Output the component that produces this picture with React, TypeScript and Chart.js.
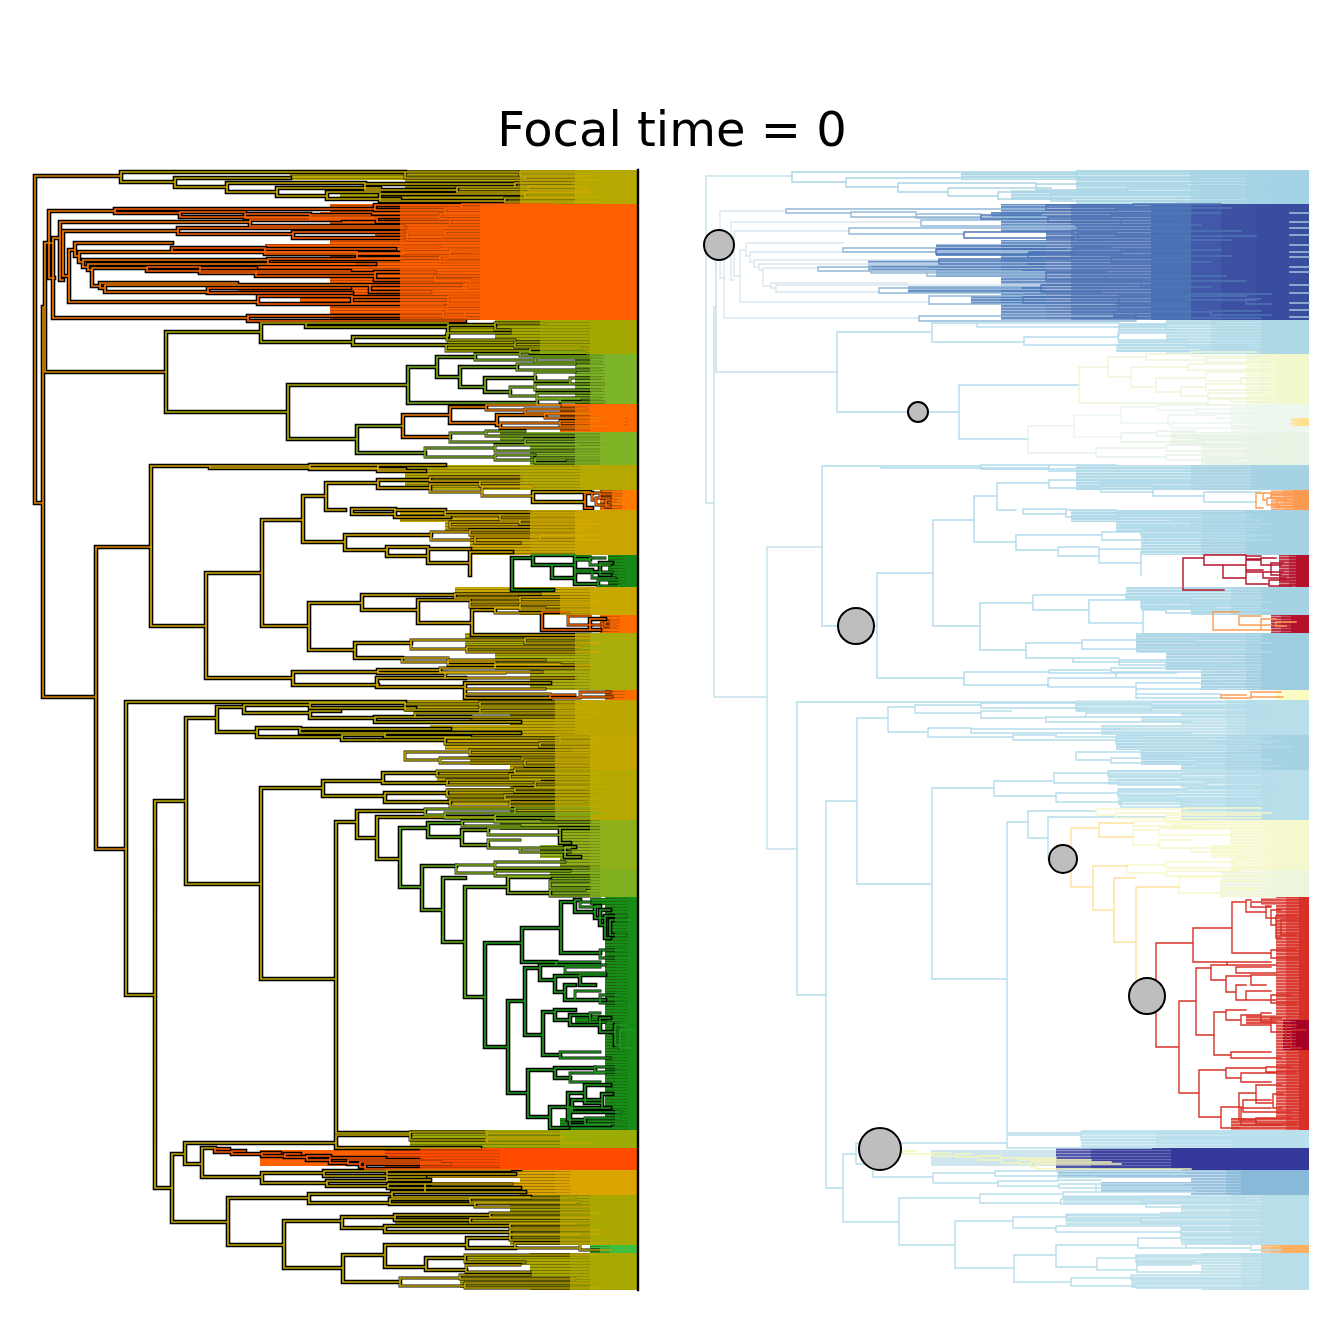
import React, { useEffect, useRef } from "react";
import { Chart, registerables } from "chart.js";

Chart.register(...registerables);

const titleText = "Focal time = 0";
const tipDepth = 638;

// each node: [depth, upper child rank, lower child rank, upper child depth, lower child depth]
const basalNodes = [
  [35, 176, 503, 121, 43], [43, 307, 697, 45, 96], [45, 243, 372, 53, 166], [96, 547, 849, 151, 126],
];
const topNodes = [
  [121, 172, 182, 405, 175], [175, 178, 187, 290, 227], [227, 183, 192, 365, 277], [277, 188, 196, 380, 327],
  [327, 192, 199, 380, 400], [405, 172, 178, 520, 525], [520, 172, 176, 575, 590], [525, 176, 180, 575, 600],
  [365, 184, 190, 515, 457], [515, 183, 187, 570, 585], [457, 187, 192, 528, 590], [528, 186, 190, 580, 590],
  [380, 194, 201, 525, 505], [525, 193, 197, 590, 600], [505, 198, 202, 575, 600],
];
const orangeStemNodes = [
  [49, 211, 278, 115, 54], [53, 238, 318, 60, 248], [60, 222, 280, 250, 63], [63, 231, 276, 178, 69],
  [69, 250, 302, 75, 258], [75, 243, 256, 172, 79], [79, 252, 262, 357, 83], [83, 260, 267, 268, 88],
  [88, 264, 270, 355, 92], [92, 268, 286, 147, 100], [100, 283, 288, 237, 105], [105, 285, 292, 370, 208],
];
const orangeMidNodes = [
  [115, 209, 213, 375, 180], [180, 212, 217, 245, 375], [245, 214, 218, 310, 375], [250, 220, 226, 340, 403],
  [178, 228, 234, 405, 293], [172, 248, 252, 265, 357], [147, 267, 271, 200, 350], [200, 268, 273, 256, 375],
  [208, 288, 293, 350, 352], [256, 271, 276, 306, 375], [248, 316, 321, 443, 465], [258, 296, 304, 352, 443],
];
const orangeNodes = [
  [310, 215, 219, 370, 375], [293, 232, 238, 403, 403], [265, 249, 254, 395, 403], [268, 259, 264, 400, 375],
  [375, 205, 210, 462, 445], [462, 204, 208, 550, 515], [445, 208, 213, 560, 550],
  [377, 217, 222, 440, 450], [440, 214, 219, 520, 500], [450, 219, 225, 510, 530],
  [407, 233, 240, 445, 485], [445, 231, 236, 570, 580], [485, 236, 240, 585, 560],
  [403, 247, 252, 440, 470], [357, 253, 258, 450, 440], [450, 250, 258, 550, 510], [440, 256, 262, 560, 540],
  [375, 272, 280, 435, 470], [435, 276, 281, 555, 560], [470, 281, 287, 575, 540],
  [370, 285, 292, 460, 430], [352, 297, 303, 447, 447], [448, 296, 304, 575, 515],
  [515, 294, 300, 600, 585], [575, 299, 304, 590, 600], [447, 306, 311, 515, 520],
  [443, 312, 317, 500, 465], [465, 312, 318, 540, 590], [540, 311, 315, 590, 600],
];
const oliveNodes = [
  [166, 332, 412, 261, 288], [261, 323, 342, 306, 353], [306, 323, 327, 448, 448],
  [353, 337, 345, 447, 446], [448, 325, 336, 495, 447], [495, 323, 330, 545, 510], [447, 333, 340, 510, 515],
  [446, 345, 351, 515, 530], [515, 342, 347, 590, 580], [530, 349, 353, 590, 585],
  [288, 385, 439, 408, 357],
];
const limeNodes = [
  [408, 367, 403, 437, 537], [437, 357, 377, 475, 460], [475, 354, 360, 520, 535], [520, 352, 356, 585, 600],
  [535, 358, 362, 590, 600], [460, 367, 387, 517, 485], [517, 364, 370, 575, 600],
  [485, 378, 392, 535, 510], [535, 372, 381, 575, 570], [570, 378, 384, 600, 610],
  [510, 387, 396, 535, 537], [535, 384, 390, 575, 600], [537, 393, 398, 590, 590],
  [537, 399, 405, 580, 560], [560, 398, 402, 600, 610],
];
const orange2Nodes = [
  [403, 415, 437, 450, 450], [450, 407, 423, 486, 497], [486, 405, 410, 560, 525], [525, 409, 413, 585, 590],
  [497, 415, 425, 545, 500], [545, 414, 418, 590, 605], [500, 423, 428, 560, 590], [560, 421, 426, 600, 610],
];
const lime2Nodes = [
  [357, 426, 453, 403, 425], [450, 433, 442, 486, 525], [486, 431, 436, 525, 600], [525, 439, 444, 600, 610],
  [425, 448, 457, 495, 495], [495, 445, 451, 580, 600], [495, 455, 460, 535, 565], [535, 458, 463, 600, 600],
];
const amberNodes = [
  [151, 466, 626, 210, 206], [210, 466, 468, 310, 378], [310, 465, 469, 400, 405], [378, 465, 471, 445, 425],
  [206, 573, 678, 262, 293], [262, 520, 626, 303, 309], [303, 496, 542, 326, 345], [326, 483, 510, 378, 345],
  [378, 480, 488, 430, 430], [430, 484, 492, 480, 482], [482, 487, 496, 533, 533], [533, 492, 502, 590, 585],
  [430, 477, 481, 520, 510], [480, 481, 486, 520, 530], [352, 509, 514, 395, 395], [395, 510, 517, 445, 450],
  [445, 512, 515, 530, 500], [500, 515, 520, 580, 590], [450, 522, 527, 520, 590], [520, 520, 524, 585, 600],
  [345, 535, 550, 431, 387], [431, 532, 540, 470, 475], [470, 530, 535, 585, 600], [475, 537, 543, 540, 520],
  [540, 536, 540, 585, 600], [387, 547, 556, 428, 428], [428, 549, 563, 470, 470], [470, 552, 575, 512, 470],
  [309, 603, 650, 362, 355], [362, 595, 610, 455, 418], [455, 594, 598, 540, 520], [520, 597, 602, 590, 600],
  [418, 600, 623, 470, 472], [470, 602, 607, 520, 520], [520, 604, 610, 590, 600],
  [472, 610, 635, 495, 590], [495, 608, 613, 545, 542],
  [355, 643, 658, 411, 402], [411, 640, 649, 525, 467], [525, 638, 643, 590, 600], [467, 647, 652, 580, 600],
  [402, 658, 662, 448, 495], [448, 660, 665, 545, 590], [495, 664, 668, 560, 590],
  [293, 672, 685, 378, 378], [378, 670, 673, 440, 445], [440, 668, 672, 540, 542], [445, 673, 678, 505, 575],
  [377, 678, 687, 465, 465], [465, 683, 698, 550, 550], [465, 689, 694, 545, 550],
];
const greenNodes = [
  [512, 558, 590, 533, 553], [533, 555, 565, 575, 552], [575, 556, 560, 590, 590], [552, 565, 578, 575, 575],
  [575, 559, 572, 590, 600], [590, 558, 565, 605, 610], [600, 563, 575, 612, 610], [575, 570, 584, 592, 598],
  [592, 572, 578, 612, 615], [598, 580, 586, 618, 620],
];
const orange3Nodes = [
  [585, 493, 508, 592, 592], [592, 493, 500, 600, 596], [600, 494, 498, 625, 610], [596, 498, 505, 606, 610],
  [606, 500, 507, 615, 625], [542, 612, 630, 568, 590], [568, 616, 625, 590, 600], [590, 619, 630, 605, 600],
  [605, 622, 626, 625, 615], [550, 695, 698, 575, 580], [580, 692, 697, 610, 612],
];
const lowerNodes = [
  [126, 702, 995, 405, 155], [155, 801, 1188, 186, 172], [186, 718, 884, 217, 261],
  [217, 707, 732, 244, 257], [244, 705, 713, 310, 310], [310, 703, 708, 405, 415], [310, 711, 718, 340, 375],
  [257, 728, 737, 300, 342], [300, 729, 733, 450, 400], [342, 735, 740, 385, 445], [385, 733, 737, 520, 470],
  [405, 704, 710, 480, 480], [480, 702, 706, 590, 600], [480, 708, 713, 585, 600], [415, 713, 717, 530, 590],
  [375, 717, 722, 470, 520], [445, 738, 744, 560, 540], [560, 737, 741, 600, 610], [540, 743, 747, 600, 620],
  [261, 788, 979, 323, 336], [323, 781, 796, 383, 385], [383, 773, 783, 437, 447], [437, 771, 776, 515, 510],
  [515, 769, 773, 590, 600], [510, 774, 779, 590, 600], [447, 780, 785, 540, 535], [535, 782, 787, 600, 610],
  [385, 793, 802, 447, 450], [447, 790, 796, 515, 505], [515, 788, 792, 585, 590], [505, 795, 799, 590, 600],
  [450, 800, 807, 510, 510], [510, 802, 806, 585, 600], [405, 752, 760, 470, 440], [470, 750, 755, 570, 590],
  [440, 758, 763, 520, 525], [525, 760, 766, 600, 610],
  [336, 822, 1133, 357, 410], [357, 811, 838, 425, 377], [377, 817, 859, 495, 400],
];
const limeOliveNodes = [
  [425, 809, 815, 515, 445], [515, 808, 813, 590, 600],
  [445, 813, 818, 530, 590], [495, 815, 822, 590, 590],
  [462, 821, 826, 540, 520], [462, 830, 845, 488, 488], [488, 828, 835, 560, 560],
  [560, 828, 843, 600, 570], [488, 840, 848, 520, 565], [520, 848, 852, 570, 570], [565, 847, 857, 575, 580],
  [456, 865, 873, 495, 495], [495, 862, 868, 565, 600], [495, 871, 876, 570, 600],
  [508, 877, 893, 550, 550], [550, 881, 888, 590, 590], [550, 890, 896, 585, 600],
];
const yellowStemNodes = [
  [400, 828, 887, 428, 422], [428, 823, 837, 462, 462], [422, 866, 910, 456, 443],
  [443, 878, 942, 465, 465], [465, 887, 997, 508, 485],
];
const forestNodes = [
  [485, 943, 1047, 522, 508], [522, 928, 962, 561, 556], [561, 902, 953, 575, 600], [575, 900, 912, 580, 595],
  [580, 902, 907, 590, 600], [595, 906, 918, 600, 605], [600, 910, 925, 610, 605], [605, 916, 938, 625, 610],
  [610, 920, 935, 630, 625], [600, 950, 958, 625, 630], [556, 962, 965, 600, 605], [508, 1001, 1093, 525, 528],
  [525, 968, 1035, 540, 543], [540, 965, 980, 565, 555], [565, 967, 973, 600, 605], [555, 976, 992, 580, 565],
  [580, 975, 985, 605, 595], [565, 985, 1000, 575, 605], [575, 991, 1000, 600, 600], [600, 995, 1003, 620, 625],
  [543, 1012, 1055, 555, 560], [555, 1010, 1020, 575, 570], [570, 1015, 1025, 590, 600], [590, 1013, 1022, 600, 605],
  [600, 1018, 1032, 610, 615], [615, 1025, 1045, 625, 620], [620, 1030, 1048, 635, 630], [560, 1052, 1058, 600, 610],
  [528, 1070, 1117, 555, 550], [555, 1068, 1078, 595, 570], [570, 1073, 1082, 605, 600], [595, 1067, 1072, 620, 625],
  [550, 1107, 1128, 570, 568], [568, 1093, 1120, 585, 585], [585, 1085, 1103, 610, 602], [602, 1094, 1108, 612, 610],
  [585, 1118, 1124, 620, 625], [572, 1100, 1112, 600, 620], [570, 1108, 1125, 600, 610],
];
const bottomNodes = [
  [172, 1154, 1222, 185, 228], [185, 1143, 1164, 336, 202], [336, 1135, 1148, 410, 480], [410, 1132, 1140, 487, 487],
  [487, 1133, 1137, 560, 565], [487, 1139, 1143, 560, 590], [202, 1148, 1177, 215, 262],
  [262, 1173, 1183, 324, 327], [324, 1171, 1176, 387, 387], [327, 1181, 1186, 387, 388], [387, 1170, 1174, 510, 515],
  [387, 1177, 1180, 425, 430], [388, 1184, 1188, 430, 520], [425, 1184, 1192, 512, 520],
  [228, 1198, 1245, 309, 284], [309, 1194, 1203, 392, 390], [392, 1192, 1197, 525, 530], [390, 1199, 1204, 470, 475],
  [470, 1198, 1202, 575, 580], [475, 1203, 1207, 575, 590], [284, 1221, 1268, 342, 343],
  [342, 1217, 1228, 395, 385], [395, 1215, 1220, 490, 470], [490, 1213, 1217, 600, 590], [470, 1218, 1223, 590, 590],
  [385, 1226, 1232, 510, 510], [510, 1224, 1228, 575, 590], [510, 1230, 1234, 600, 600],
  [343, 1255, 1282, 385, 400], [385, 1245, 1267, 467, 426], [467, 1238, 1248, 510, 515], [510, 1235, 1240, 580, 590],
  [515, 1243, 1248, 580, 580], [426, 1258, 1270, 465, 466], [465, 1255, 1262, 595, 525], [466, 1265, 1272, 520, 530],
  [400, 1278, 1286, 460, 465], [460, 1275, 1279, 530, 575], [465, 1283, 1288, 590, 600], [580, 1243, 1250, 605, 610],
];
const bottomOrangeNodes = [
  [215, 1149, 1152, 229, 232], [232, 1151, 1154, 245, 262], [262, 1153, 1156, 280, 285],
  [285, 1154, 1157, 300, 307], [307, 1156, 1160, 330, 330], [330, 1158, 1163, 385, 348], [348, 1160, 1164, 420, 360],
  [360, 1162, 1167, 440, 365], [365, 1164, 1169, 450, 520],
];

const cladeNodes = [basalNodes, topNodes, orangeStemNodes, orangeMidNodes, orangeNodes, oliveNodes, limeNodes, orange2Nodes, lime2Nodes, amberNodes, greenNodes, orange3Nodes, lowerNodes, limeOliveNodes, yellowStemNodes, forestNodes, bottomNodes, bottomOrangeNodes];
const cladeLeftColors = ["#d88500", "#c8aa00", "#f87800", "#ff6000", "#ff6000", "#a8ac00", "#7ab020", "#f27c00", "#7fb022", "#d4aa00", "#1f9a1f", "#ff6a00", "#bfac00", "#85b41a", "#5cb01c", "#1f9a1f", "#c2a800", "#ff5a00"];
const cladeRightColors = ["#c7e0ea", "#a9d5e5", "#d8e8f0", "#93b8d9", "#4f76b6", "#b4dced", "#eef6d8", "#ecf6ef", "#e6f3e8", "#b0dbec", "#b5112a", "#fd9a52", "#b4dded", "#f8f8c8", "#fde3a0", "#d73027", "#b8deec", "#f6f6b8"];

// dense tips: one entry per block of tips
const bandTop = [170, 204, 320, 354, 404, 432, 465, 490, 510, 555, 587, 615, 633, 690, 700, 735, 770, 820, 870, 897, 1020, 1130, 1148, 1170, 1195, 1245, 1253, 418];
const bandBottom = [204, 320, 354, 404, 432, 465, 490, 510, 555, 587, 615, 633, 690, 700, 735, 770, 820, 870, 897, 1130, 1050, 1148, 1170, 1195, 1245, 1253, 1290, 426];
const bandDarkStart = [405, 375, 495, 575, 560, 530, 405, 600, 470, 608, 520, 600, 530, 605, 510, 510, 510, 560, 550, 605, 612, 410, 385, 520, 510, 590, 530, 620];
const bandMidStart = [520, 400, 540, 590, 575, 575, 520, 612, 530, 618, 560, 610, 575, 615, 555, 555, 555, 590, 590, 615, 620, 485, 420, 555, 560, 600, 570, 625];
const bandSolidStart = [575, 480, 590, 605, 590, 600, 580, 622, 575, 625, 590, 620, 590, 625, 575, 590, 590, 600, 600, 628, 625, 560, 500, 570, 590, 610, 590, 628];
const bandLeftColors = ["#b5a800", "#ff5f00", "#a5a800", "#7db52a", "#ff6a00", "#7fb427", "#b5a800", "#ff7a00", "#c8a500", "#178a17", "#c8a800", "#ff6a00", "#a8ad0c", "#ff6a00", "#bda600", "#c4a600", "#b5a800", "#8fb01a", "#7fb020", "#178c17", "#178c17", "#9cab05", "#ff4a00", "#dba400", "#aaa800", "#3fbf3f", "#a8a800", "#ff6a00"];
const bandRightColors = ["#a3d3e4", "#4a70b3", "#aed8e6", "#f3f8cc", "#eef7ee", "#e9f3e3", "#a6d3e4", "#fd9a52", "#a6d3e4", "#b5112a", "#a6d3e4", "#b5112a", "#9fcde0", "#fbfcc0", "#b8deea", "#a6d3e4", "#b8deea", "#f5f8cc", "#eef5dd", "#d73027", "#a50026", "#b9e0ec", "#35399b", "#88b9d9", "#b8deea", "#fdae61", "#b8deea", "#fee090"];

// partly filled rows that lead into a block: [top, bottom, start, end, palette index]
const leadPalette = ["#ff5f00", "#b5a800", "#a5a800", "#7fb427", "#c8a800", "#a8ad0c", "#bda600", "#8fb01a", "#178c17", "#dba400", "#aaa800"];
const leadPaletteRight = ["#4f7ebc", "#a3d3e4", "#aed8e6", "#e9f3e3", "#a6d3e4", "#9fcde0", "#b8deea", "#f5f8cc", "#d73027", "#88b9d9", "#b8deea"];
const leadRows = [
  [172, 180, 290, 405, 1], [190, 200, 340, 405, 1],
  [260, 270, 197, 375, 0], [244, 256, 265, 375, 0], [212, 217, 320, 375, 0], [270, 277, 265, 375, 0], [286, 293, 237, 375, 0],
  [204, 232, 330, 375, 0], [240, 320, 330, 375, 0], [296, 304, 300, 375, 0],
  [323, 333, 448, 495, 2], [340, 352, 447, 495, 2], [432, 445, 500, 530, 3],
  [510, 522, 400, 470, 4], [522, 532, 445, 470, 4], [587, 600, 455, 520, 4], [600, 610, 470, 520, 4],
  [633, 652, 465, 530, 5], [652, 670, 495, 530, 5],
  [700, 712, 405, 510, 6], [716, 722, 470, 510, 6], [725, 735, 430, 510, 6], [735, 750, 445, 510, 4], [750, 765, 470, 510, 4],
  [770, 785, 437, 510, 6], [788, 805, 447, 510, 6],
  [820, 830, 500, 560, 7], [845, 858, 540, 560, 7],
  [1118, 1130, 560, 605, 8], [1015, 1024, 575, 605, 8], [898, 905, 590, 605, 8],
  [1170, 1178, 387, 520, 9], [1182, 1192, 430, 520, 9],
  [1195, 1205, 392, 510, 10], [1213, 1225, 395, 510, 10], [1255, 1265, 465, 530, 10], [1276, 1288, 460, 530, 10],
];
const bottomLeadRank = [1150, 1166];
const bottomLeadDepth = [260, 385];
const bottomLeadColors = ["#ff6000", "#cfe6ee"];

// the dark blue block on the right deepens toward the tips
const blueBlockTop = 204;
const blueBlockBottom = 320;
const blueBlockStart = [520, 550, 585];
const blueBlockColors = ["#4258a8", "#3d50a2", "#3a4c9f"];
const blueFlashRanks = [213, 222, 228, 235, 245, 252, 257, 267, 272, 285, 293, 303, 310, 317];

// circles on the right tree: depth, rank, radius
const circleDepth = [48, 247, 185, 392, 476, 209];
const circleRank = [245, 412, 626, 859, 996, 1149];
const circleRadius = [15, 10, 18, 14, 18, 21];

const rightShift = 671;

function stripe(color: string, gap: string, alpha = 1) {
  const c = document.createElement("canvas");
  c.width = 1;
  c.height = 3;
  const g = c.getContext("2d")!;
  g.globalAlpha = alpha;
  g.fillStyle = color;
  g.fillRect(0, 0, 1, 3);
  g.globalAlpha = 1;
  g.fillStyle = gap;
  g.fillRect(0, 1, 1, 1);
  return g.createPattern(c, "repeat")!;
}

function rect(x0: number, x1: number, y0: number, y1: number) {
  return [{ x: x0, y: y0 }, { x: x1, y: y0 }, { x: x1, y: y1 }, { x: x0, y: y1 }];
}

function nodePath(nodes: number[][]) {
  const pts: { x: number; y: number }[] = [];
  for (const [x, yT, yB, xT, xB] of nodes) {
    pts.push({ x: xT, y: yT }, { x, y: yT }, { x, y: yB }, { x: xB, y: yB }, { x: NaN, y: NaN });
  }
  return pts;
}

export default function App() {
  const ref = useRef<HTMLCanvasElement>(null);
  useEffect(() => {
    const datasets: any[] = [];
    const addBand = (axis: string, data: any[], bg: any) =>
      datasets.push({ type: "line", xAxisID: axis, data, fill: "shape", backgroundColor: bg, borderWidth: 0, pointRadius: 0, tension: 0 });
    const addLine = (axis: string, data: any[], color: string, w: number) =>
      datasets.push({ type: "line", xAxisID: axis, data, borderColor: color, borderWidth: w, pointRadius: 0, tension: 0, fill: false, spanGaps: false, borderJoinStyle: "miter", borderCapStyle: "square" });

    // layer beneath the black outline
    leadRows.forEach(([y0, y1, s, e, p]) => {
      addBand("x", rect(s, e, y0, y1), stripe(leadPalette[p], "rgba(40,30,0,0.35)"));
      addBand("x2", rect(s, e, y0, y1), stripe(leadPaletteRight[p], "rgba(255,255,255,0.4)", 0.85));
    });
    addBand("x", rect(bottomLeadDepth[0], bottomLeadDepth[1], bottomLeadRank[0], bottomLeadRank[1]), bottomLeadColors[0]);
    addBand("x2", rect(bottomLeadDepth[0], bottomLeadDepth[1], bottomLeadRank[0], bottomLeadRank[1]), bottomLeadColors[1]);
    bandTop.forEach((y0, i) => {
      const y1 = bandBottom[i];
      const [a, b, c] = [bandDarkStart[i], bandMidStart[i], bandSolidStart[i]];
      addBand("x", rect(a, b, y0, y1), stripe(bandLeftColors[i], "rgba(40,30,0,0.35)"));
      addBand("x", rect(b, c, y0, y1), bandLeftColors[i]);
      const R = bandRightColors[i];
      addBand("x2", rect(a, b, y0, y1), stripe(R, "rgba(255,255,255,0.4)", 0.85));
      addBand("x2", rect(b, c, y0, y1), stripe(R, "rgba(255,255,255,0.2)", 0.95));
      addBand("x2", rect(c, tipDepth, y0, y1), R);
    });
    blueBlockStart.forEach((s, i) => addBand("x2", rect(s, tipDepth, blueBlockTop, blueBlockBottom), blueBlockColors[i]));
    blueFlashRanks.forEach((r) => addLine("x2", [{ x: 619, y: r }, { x: tipDepth, y: r }], "#9cc3d8", 1.6));

    // black outline: wide on sparse branches, narrow where the tips crowd
    const all = cladeNodes.flat();
    const sparse = (n: number[]) => n[0] < 400 || n[2] - n[1] >= 10;
    addLine("x", nodePath(all.filter(sparse)), "#000000", 4.6);
    addLine("x", nodePath(all.filter((n) => !sparse(n))), "#000000", 2.8);

    // layer over the outline
    bandTop.forEach((y0, i) => {
      const y1 = bandBottom[i];
      const [b, c] = [bandMidStart[i], bandSolidStart[i]];
      addBand("x", rect(b, c, y0, y1), stripe(bandLeftColors[i], "rgba(40,30,0,0.2)", 0.78));
      addBand("x", rect(c, tipDepth, y0, y1), bandLeftColors[i]);
    });

    cladeNodes.forEach((nodes, i) => addLine("x", nodePath(nodes), cladeLeftColors[i], 1.7));
    cladeNodes.forEach((nodes, i) => addLine("x2", nodePath(nodes), cladeRightColors[i], 1.4));
    addLine("x", [{ x: tipDepth, y: 170 }, { x: tipDepth, y: 1290 }], "#000000", 2.4);
    datasets.push({
      type: "line", xAxisID: "x2", showLine: false,
      data: circleDepth.map((d, i) => ({ x: d, y: circleRank[i] })),
      pointRadius: circleRadius, pointBackgroundColor: "#bebebe", pointBorderColor: "#000000", pointBorderWidth: 2,
    });
    const n = datasets.length;
    datasets.forEach((d, i) => (d.order = n - i));
    const chart = new Chart(ref.current!, {
      type: "line",
      data: { datasets },
      options: {
        animation: false,
        responsive: false,
        devicePixelRatio: 1,
        layout: { autoPadding: false, padding: { bottom: 44 } },
        plugins: {
          legend: { display: false },
          tooltip: { enabled: false },
          title: {
            display: true,
            text: titleText,
            color: "#000000",
            font: { family: "DejaVu Sans", size: 48, weight: "normal", lineHeight: 1 },
            padding: { top: 110, bottom: 2 },
          },
        },
        scales: {
          x: { type: "linear", display: false, min: 0, max: 1344 },
          x2: { type: "linear", display: false, min: -rightShift, max: 1344 - rightShift },
          y: { type: "linear", display: false, reverse: true, min: 160, max: 1300 },
        },
      },
    } as any);
    return () => chart.destroy();
  }, []);
  return (
    <div style={{ position: "absolute", left: 0, top: 0, width: 1344, height: 1344 }}>
      <canvas ref={ref} width={1344} height={1344} style={{ display: "block" }} />
    </div>
  );
}
